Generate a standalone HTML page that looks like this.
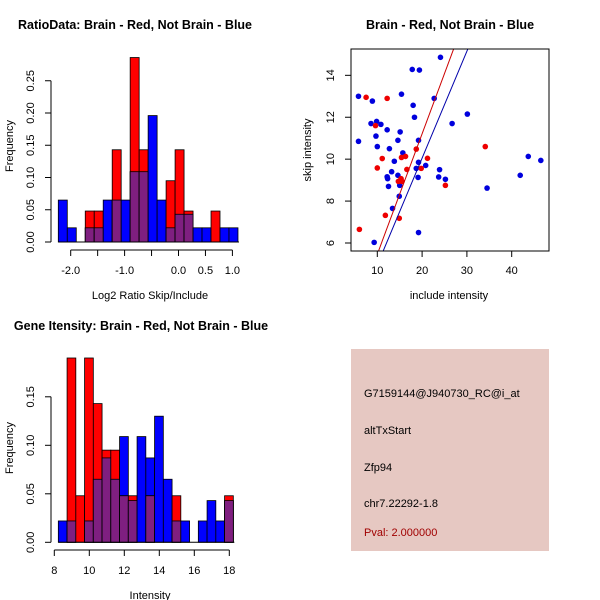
<!DOCTYPE html>
<html><head><meta charset="utf-8"><style>
body{margin:0;background:#fff}
svg{display:block;font-family:"Liberation Sans",Helvetica,sans-serif}
</style></head><body>
<svg id="s" width="600" height="600" xmlns="http://www.w3.org/2000/svg">
<rect width="600" height="600" fill="#fff"/>
<text x="135" y="29" text-anchor="middle" font-size="12.5" font-weight="bold">RatioData: Brain - Red, Not Brain - Blue</text>
<text x="450" y="29" text-anchor="middle" font-size="12.5" font-weight="bold">Brain - Red, Not Brain - Blue</text>
<text x="141" y="330" text-anchor="middle" font-size="12.5" font-weight="bold">Gene Itensity: Brain - Red, Not Brain - Blue</text>
<text x="150" y="299" text-anchor="middle" font-size="11">Log2 Ratio Skip/Include</text>
<text transform="translate(13,146) rotate(-90)" text-anchor="middle" font-size="11">Frequency</text>
<text x="449" y="299" text-anchor="middle" font-size="11">include intensity</text>
<text transform="translate(311,150) rotate(-90)" text-anchor="middle" font-size="11">skip intensity</text>
<text x="150" y="599" text-anchor="middle" font-size="11">Intensity</text>
<text transform="translate(13,448) rotate(-90)" text-anchor="middle" font-size="11">Frequency</text>
<g id="h1"></g>
<g id="h2"></g>
<g id="sc"></g>
<rect x="351" y="349" width="198" height="202" fill="#e6c8c2"/>
<g font-size="11">
<text x="364" y="397">G7159144@J940730_RC@i_at</text>
<text x="364" y="434">altTxStart</text>
<text x="364" y="471">Zfp94</text>
<text x="364" y="507">chr7.22292-1.8</text>
<text x="364" y="536" fill="#a00000">Pval: 2.000000</text>
</g>
</svg>
<script>
// ratio histogram data
const r1Red=[0,0,0,0.048,0.048,0,0.143,0,0.286,0.143,0,0,0.095,0.143,0.048,0,0,0.048,0,0];
const r1Blue=[0.065,0.022,0,0.022,0.022,0.065,0.065,0.065,0.109,0.109,0.196,0.065,0.022,0.043,0.043,0.022,0.022,0,0.022,0.022];
const r1Start=-2.23, r1Width=1/6;
const r1XTicks=[-2,-1.5,-1,-0.5,0,0.5,1];
const r1XLabels=["-2.0","","-1.0","","0.0","0.5","1.0"];
const r1YTicks=[0,0.05,0.10,0.15,0.20,0.25];
const r1YLabels=["0.00","0.05","0.10","0.15","0.20","0.25"];
// intensity histogram data
const r2Red=[0,0.19,0.048,0.19,0.143,0.095,0.095,0.048,0.048,0,0.048,0,0,0.048,0,0,0,0,0,0.048];
const r2Blue=[0.022,0.022,0,0.022,0.065,0.087,0.065,0.109,0.043,0.109,0.087,0.130,0.065,0.022,0.022,0,0.022,0.043,0.022,0.043];
const r2Start=8.23, r2Width=0.5;
const r2XTicks=[8,10,12,14,16,18];
const r2YTicks=[0,0.05,0.10,0.15];
const r2YLabels=["0.00","0.05","0.10","0.15"];
// scatter data
const blueX=[5.8,8.9,8.6,9.85,10.8,9.7,10.0,5.8,12.2,12.7,15.4,15.1,14.6,17.8,19.4,24.1,18.0,18.3,22.7,26.7,30.1,15.7,13.8,13.2,12.2,12.3,12.5,14.6,15.0,14.9,13.4,19.2,18.7,20.8,19.2,19.1,23.7,23.9,25.2,19.2,9.3,34.5,41.9,43.7,46.5];
const blueY=[13.0,12.77,11.7,11.8,11.66,11.1,10.6,10.85,11.4,10.5,13.1,11.3,10.9,14.28,14.25,14.86,12.57,12.0,12.9,11.7,12.15,10.3,9.9,9.4,9.16,9.07,8.7,9.23,8.75,8.23,7.65,9.85,9.56,9.7,10.9,9.13,9.15,9.5,9.04,6.5,6.03,8.62,9.23,10.13,9.94];
const redX=[7.5,12.2,9.6,11.1,10.0,18.7,16.3,15.4,16.6,19.8,21.2,14.7,15.3,15.5,25.2,34.1,11.8,14.9,6.0];
const redY=[12.95,12.9,11.6,10.03,9.58,10.48,10.13,10.08,9.51,9.56,10.04,8.94,9.07,8.94,8.75,10.6,7.32,7.18,6.65];
const redFit=[-0.29,0.575];
const blueFit=[-0.15,0.51];
const scXTicks=[10,20,30,40];
const scYTicks=[6,8,10,12,14];

const NS="http://www.w3.org/2000/svg";
function mk(p,t,a){const e=document.createElementNS(NS,t);for(const k in a)e.setAttribute(k,a[k]);p.appendChild(e);return e;}

function hist(g,red,blue,start,w,sx,sy,xt,xl,yt,yl,x0,yBase,xAxisY){
  const base=sy(0);
  for(let i=0;i<red.length;i++){
    const xa=sx(start+i*w), xb=sx(start+(i+1)*w);
    const r=red[i], b=blue[i], m=Math.min(r,b);
    if(b>0){const e=mk(g,'rect',{x:xa,y:sy(b),width:xb-xa,height:base-sy(b),fill:'#0000ff',stroke:'#000','stroke-width':0.8});
      }
    if(r>0){const e=mk(g,'rect',{x:xa,y:sy(r),width:xb-xa,height:base-sy(r),fill:'#ff0000',stroke:'#000','stroke-width':0.8});
      }
    if(m>0){const e=mk(g,'rect',{x:xa,y:sy(m),width:xb-xa,height:base-sy(m),fill:'#7f1f80',stroke:'#000','stroke-width':0.8});
      }
  }
  mk(g,'line',{x1:sx(start),x2:sx(start+red.length*w)+1,y1:base,y2:base,stroke:'#000'});
  mk(g,'line',{x1:sx(xt[0]),x2:sx(xt[xt.length-1]),y1:xAxisY,y2:xAxisY,stroke:'#000'});
  xt.forEach((v,i)=>{mk(g,'line',{x1:sx(v),x2:sx(v),y1:xAxisY,y2:xAxisY+6,stroke:'#000'});
    if(xl[i]){const t=mk(g,'text',{x:sx(v),y:xAxisY+24,'text-anchor':'middle','font-size':11});t.textContent=xl[i];
      }});
  mk(g,'line',{x1:x0,x2:x0,y1:sy(yt[0]),y2:sy(yt[yt.length-1]),stroke:'#000'});
  yt.forEach((v,i)=>{mk(g,'line',{x1:x0,x2:x0-6,y1:sy(v),y2:sy(v),stroke:'#000'});
    const t=mk(g,'text',{'text-anchor':'middle','font-size':11,transform:`translate(${x0-17},${sy(v)}) rotate(-90)`});t.textContent=yl[i];
    });
}
hist(document.getElementById('h1'),r1Red,r1Blue,r1Start,r1Width,
  v=>70.7+(v+2)*53.9, v=>242-v*645, r1XTicks,r1XLabels,r1YTicks,r1YLabels,51,242,250);
hist(document.getElementById('h2'),r2Red,r2Blue,r2Start,r2Width,
  v=>54.3+(v-8)*17.5, v=>542.3-v*970, r2XTicks,r2XTicks.map(String),r2YTicks,r2YLabels,51,542.3,550);

(function(){
  const g=document.getElementById('sc');
  const sx=v=>377.3+(v-10)*4.48, sy=v=>243-(v-6)*20.96;
  const L=351,R=549,T=49,B=251;
  const cp=mk(g,'clipPath',{id:'cp'});
  mk(cp,'rect',{x:L,y:T,width:R-L,height:B-T});
  for(let i=0;i<blueX.length;i++){const c=mk(g,'circle',{cx:sx(blueX[i]),cy:sy(blueY[i]),r:2.8,fill:'#0000dd'});
    }
  for(let i=0;i<redX.length;i++){const c=mk(g,'circle',{cx:sx(redX[i]),cy:sy(redY[i]),r:2.8,fill:'#ee0000'});
    }
  [[redFit,'#cc0000','red-fit-line'],[blueFit,'#0000aa','blue-fit-line']].forEach(([f,col,nm])=>{
    const l=mk(g,'line',{x1:sx(0),y1:sy(f[0]),x2:sx(60),y2:sy(f[0]+f[1]*60),stroke:col,'stroke-width':1,'clip-path':'url(#cp)'});
    });
  mk(g,'rect',{x:L,y:T,width:R-L,height:B-T,fill:'none',stroke:'#000'});
  scXTicks.forEach(v=>{mk(g,'line',{x1:sx(v),x2:sx(v),y1:B,y2:B+6,stroke:'#000'});
    const t=mk(g,'text',{x:sx(v),y:B+23,'text-anchor':'middle','font-size':11});t.textContent=v;
    });
  scYTicks.forEach(v=>{mk(g,'line',{x1:L,x2:L-6,y1:sy(v),y2:sy(v),stroke:'#000'});
    const t=mk(g,'text',{'text-anchor':'middle','font-size':11,transform:`translate(${L-17},${sy(v)}) rotate(-90)`});t.textContent=v;
    });
})();
</script>
</body></html>
